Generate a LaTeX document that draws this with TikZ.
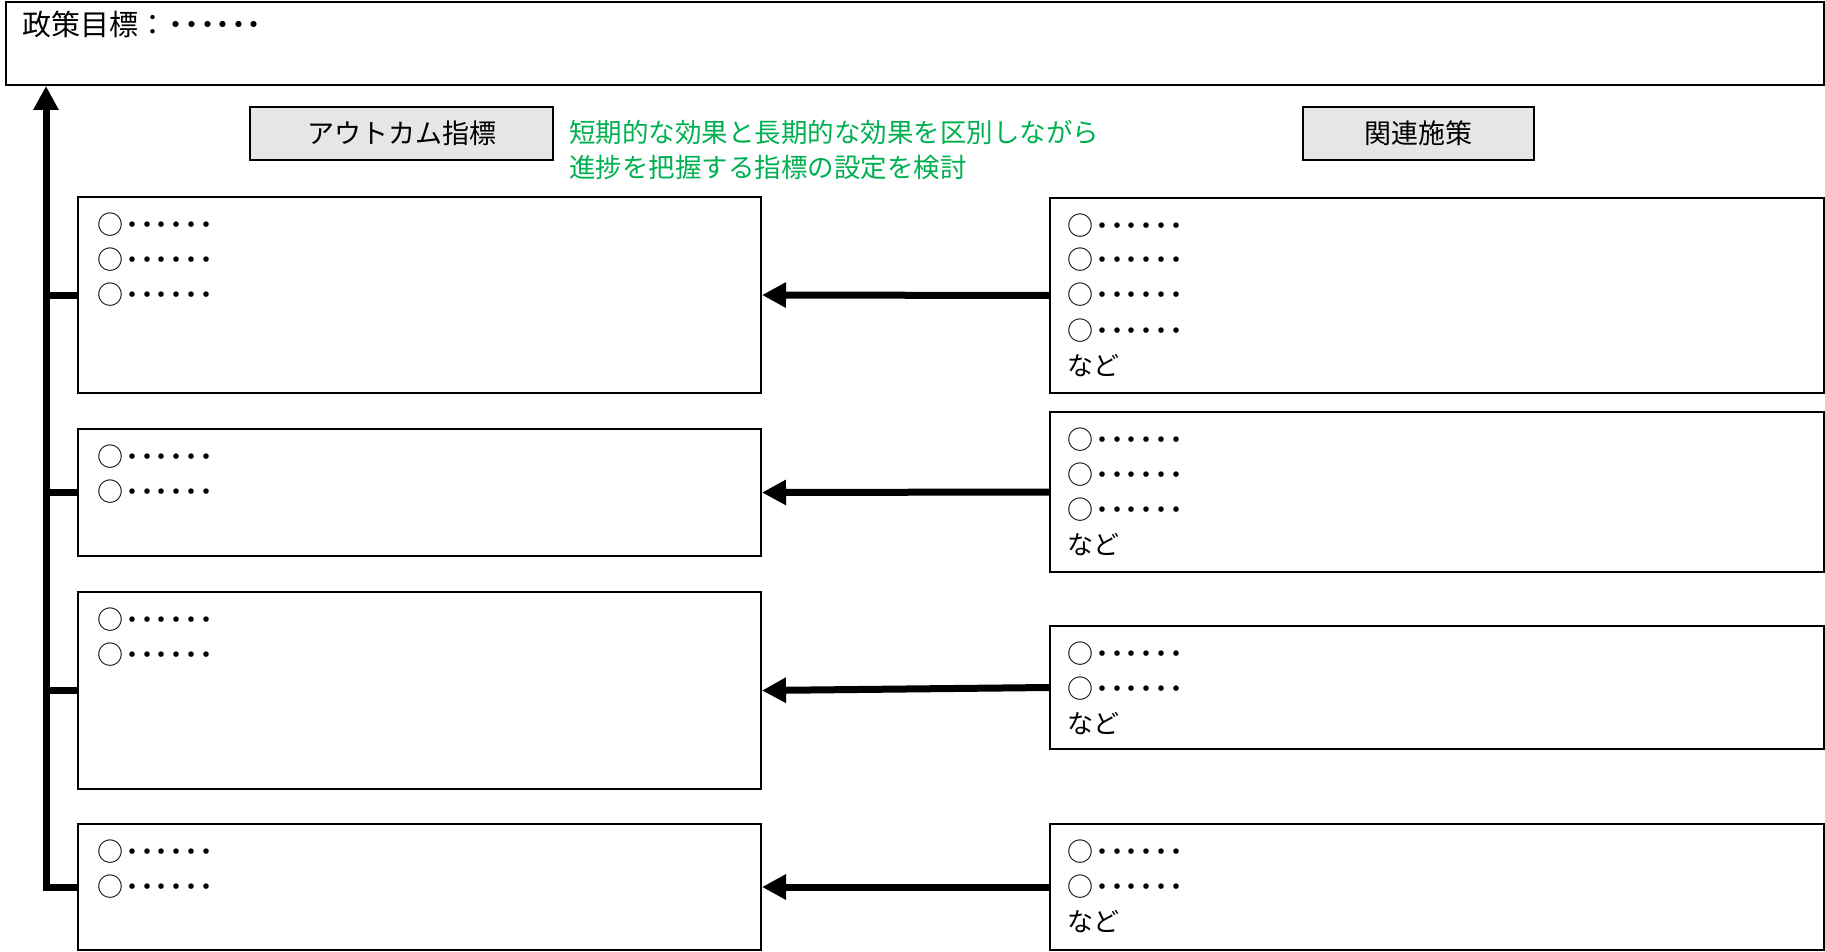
\documentclass[tikz,border=0pt]{standalone}
\usepackage{fontspec}
\setmainfont{Noto Sans CJK JP}
\usetikzlibrary{arrows.meta,calc}
\definecolor{hdrgray}{RGB}{230,230,230}
\definecolor{notegreen}{RGB}{0,176,80}
\newcommand{\mdots}{○\kern-.15em・\kern-.43em・\kern-.43em・\kern-.43em・\kern-.43em・\kern-.43em・}
\newcommand{\tdots}{\kern-.19em・\kern-.46em・\kern-.46em・\kern-.46em・\kern-.46em・\kern-.46em・}
\begin{document}
\begin{tikzpicture}[x=1pt,y=-1pt,
  box/.style={draw, line width=2pt, inner sep=0pt, anchor=north west},
  hdr/.style={draw, line width=2pt, fill=hdrgray, inner sep=0pt, anchor=north west, font=\fontsize{27}{32}\selectfont},
  txt/.style={anchor=base west, inner sep=0pt, font=\fontsize{26}{35}\selectfont},
  note/.style={anchor=base west, inner sep=0pt, text=notegreen, font=\fontsize{26.5}{35}\selectfont},
  link/.style={line width=7pt, line join=miter},
  arr/.style={line width=7pt, line join=miter, -{Triangle[length=24pt,width=24pt]}}]
\useasboundingbox (0,0) rectangle (1825,952);
% top goal box
\node[box, minimum width=1818pt, minimum height=83pt] (top) at (5,1) {};
\node[anchor=base west, inner sep=0pt, font=\fontsize{29}{35}\selectfont] (goal) at ($(top.north west)+(17,35)$) {政策目標：\tdots};
% headers
\node[hdr, minimum width=303pt, minimum height=53pt] (h1) at (249,106) {アウトカム指標};
\node[hdr, minimum width=231pt, minimum height=53pt] (h2) at (1302,106) {関連施策};
\node[note] (memo) at (569,143) {\vtop{\baselineskip=35pt\hbox{短期的な効果と長期的な効果を区別しながら}\hbox{進捗を把握する指標の設定を検討}}};
% left boxes
\node[box, minimum width=683pt, minimum height=196pt] (L1) at (77,196) {};
\node[box, minimum width=683pt, minimum height=127pt] (L2) at (77,428) {};
\node[box, minimum width=683pt, minimum height=197pt] (L3) at (77,591) {};
\node[box, minimum width=683pt, minimum height=126pt] (L4) at (77,823) {};
% right boxes
\node[box, minimum width=774pt, minimum height=195pt] (R1) at (1049,197) {};
\node[box, minimum width=774pt, minimum height=160pt] (R2) at (1049,411) {};
\node[box, minimum width=774pt, minimum height=123pt] (R3) at (1049,625) {};
\node[box, minimum width=774pt, minimum height=126pt] (R4) at (1049,823) {};
% texts
\node[txt] (tL1) at ($(L1.north west)+(20,38)$) {\vtop{\baselineskip=35pt\hbox{\mdots}\hbox{\mdots}\hbox{\mdots}}};
\node[txt] (tL2) at ($(L2.north west)+(20,38)$) {\vtop{\baselineskip=35pt\hbox{\mdots}\hbox{\mdots}}};
\node[txt] (tL3) at ($(L3.north west)+(20,38)$) {\vtop{\baselineskip=35pt\hbox{\mdots}\hbox{\mdots}}};
\node[txt] (tL4) at ($(L4.north west)+(20,38)$) {\vtop{\baselineskip=35pt\hbox{\mdots}\hbox{\mdots}}};
\node[txt] (tR1) at ($(R1.north west)+(18,38)$) {\vtop{\baselineskip=35pt\hbox{\mdots}\hbox{\mdots}\hbox{\mdots}\hbox{\mdots}\hbox{など}}};
\node[txt] (tR2) at ($(R2.north west)+(18,38)$) {\vtop{\baselineskip=35pt\hbox{\mdots}\hbox{\mdots}\hbox{\mdots}\hbox{など}}};
\node[txt] (tR3) at ($(R3.north west)+(18,38)$) {\vtop{\baselineskip=35pt\hbox{\mdots}\hbox{\mdots}\hbox{など}}};
\node[txt] (tR4) at ($(R4.north west)+(18,38)$) {\vtop{\baselineskip=35pt\hbox{\mdots}\hbox{\mdots}\hbox{など}}};
% trunk
\coordinate (trunk) at (46,0);
\draw[arr] (L4.west) -| (top.south -| trunk);
\draw[link] (L1.west) -- (L1.west -| trunk);
\draw[link] (L2.west) -- (L2.west -| trunk);
\draw[link] (L3.west) -- (L3.west -| trunk);
% arrows right to left
\draw[arr] (R1.west) -- (L1.east);
\draw[arr] (R2.west) -- (L2.east);
\draw[arr] (R3.west) -- (L3.east);
\draw[arr] (R4.west) -- (L4.east);
\end{tikzpicture}
\end{document}
